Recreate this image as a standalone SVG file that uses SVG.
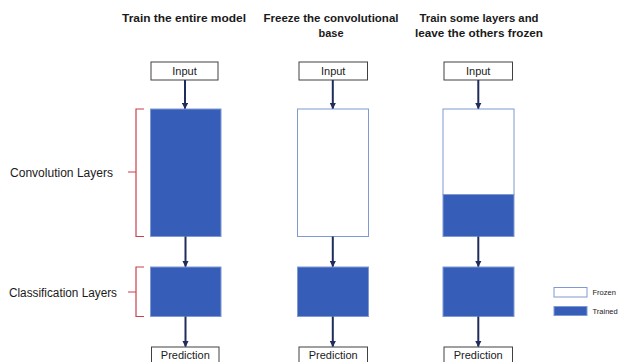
<svg xmlns="http://www.w3.org/2000/svg" width="624" height="362" viewBox="0 0 624 362">
<defs>
<style>
.title{font-family:"Liberation Sans",Arial,sans-serif;font-weight:bold;font-size:11.5px;fill:#1a1a1a;text-anchor:middle}
.lbl{font-family:"Liberation Sans",Arial,sans-serif;font-size:12.5px;fill:#1a1a1a}
.io{font-family:"Liberation Sans",Arial,sans-serif;font-size:11px;fill:#1a1a1a;text-anchor:middle}
.leg{font-family:"Liberation Sans",Arial,sans-serif;font-size:7.5px;fill:#1a1a1a}
.iobox{fill:#ffffff;stroke:#404040;stroke-width:1}
.trained{fill:#365EB9;stroke:#7F9AD3;stroke-width:1}
.frozen{fill:#ffffff;stroke:#7F9AD3;stroke-width:1}
.arrow{stroke:#1F2C5C;stroke-width:2;fill:none;marker-end:url(#ah)}
.brace{stroke:#C8424A;stroke-width:1.2;fill:none}
</style>
<marker id="ah" viewBox="0 0 10 10" refX="9" refY="5" markerWidth="3.2" markerHeight="3.2" orient="auto" markerUnits="strokeWidth">
<path d="M0,0 L10,5 L0,10 z" fill="#1F2C5C"/>
</marker>
</defs>
<rect width="624" height="362" fill="#ffffff"/>

<g id="titles">
<text class="title" x="184" y="21.5" textLength="124" lengthAdjust="spacingAndGlyphs">Train the entire model</text>
<text class="title" x="331" y="21.5" textLength="135" lengthAdjust="spacingAndGlyphs">Freeze the convolutional</text>
<text class="title" x="331" y="37" textLength="25" lengthAdjust="spacingAndGlyphs">base</text>
<text class="title" x="479" y="21.5" textLength="119" lengthAdjust="spacingAndGlyphs">Train some layers and</text>
<text class="title" x="479" y="37" textLength="128" lengthAdjust="spacingAndGlyphs">leave the others frozen</text>
</g>

<g id="labels">
<path class="brace" d="M144,109 L136,109 L136,236.5 L144,236.5 M136,172 L128,172"/>
<text class="lbl" x="10" y="177" textLength="103" lengthAdjust="spacingAndGlyphs">Convolution Layers</text>
<path class="brace" d="M144,267 L136,267 L136,316.5 L144,316.5 M136,292 L128,292"/>
<text class="lbl" x="9" y="296.5" textLength="108" lengthAdjust="spacingAndGlyphs">Classification Layers</text>
</g>

<g id="col1-input"><rect class="iobox" x="151" y="62" width="67" height="18"/><text class="io" x="184.5" y="74.5">Input</text></g>
<g id="col1-conv"><rect class="trained" x="150.5" y="109" width="70.5" height="127.5"/></g>
<g id="col1-class"><rect class="trained" x="150.5" y="267" width="70.5" height="49.5"/></g>
<g id="col1-pred"><rect class="iobox" x="151.5" y="347" width="67.5" height="18"/><text class="io" x="185.3" y="358.5">Prediction</text></g>

<g id="col2-input"><rect class="iobox" x="299" y="62" width="68.5" height="18"/><text class="io" x="333.2" y="74.5">Input</text></g>
<g id="col2-conv"><rect class="frozen" x="297.5" y="109" width="71" height="127.5"/></g>
<g id="col2-class"><rect class="trained" x="297.5" y="267" width="71" height="49.5"/></g>
<g id="col2-pred"><rect class="iobox" x="299" y="347" width="68.5" height="18"/><text class="io" x="333.2" y="358.5">Prediction</text></g>

<g id="col3-input"><rect class="iobox" x="444" y="62" width="68.5" height="18"/><text class="io" x="478.2" y="74.5">Input</text></g>
<g id="col3-conv"><rect class="frozen" x="443" y="109" width="71" height="85.5"/><rect class="trained" x="443" y="194.5" width="71" height="42"/></g>
<g id="col3-class"><rect class="trained" x="443" y="267" width="71" height="49.5"/></g>
<g id="col3-pred"><rect class="iobox" x="444" y="347" width="68.5" height="18"/><text class="io" x="478.2" y="358.5">Prediction</text></g>

<g id="legend">
<rect class="frozen" x="554" y="287.5" width="33" height="9.5"/>
<text class="leg" x="592.5" y="295">Frozen</text>
<rect class="trained" x="554" y="306.5" width="33" height="9"/>
<text class="leg" x="592.5" y="314">Trained</text>
</g>

<g id="connectors">
<line class="arrow" x1="185" y1="80" x2="185" y2="108.5"/>
<line class="arrow" x1="185.5" y1="236.5" x2="185.5" y2="266.5"/>
<line class="arrow" x1="185.5" y1="316.5" x2="185.5" y2="346.5"/>
<line class="arrow" x1="332.8" y1="80" x2="332.8" y2="108.5"/>
<line class="arrow" x1="332.8" y1="236.5" x2="332.8" y2="266.5"/>
<line class="arrow" x1="332.8" y1="316.5" x2="332.8" y2="346.5"/>
<line class="arrow" x1="478.3" y1="80" x2="478.3" y2="108.5"/>
<line class="arrow" x1="478.3" y1="236.5" x2="478.3" y2="266.5"/>
<line class="arrow" x1="478.3" y1="316.5" x2="478.3" y2="346.5"/>
</g>
</svg>
